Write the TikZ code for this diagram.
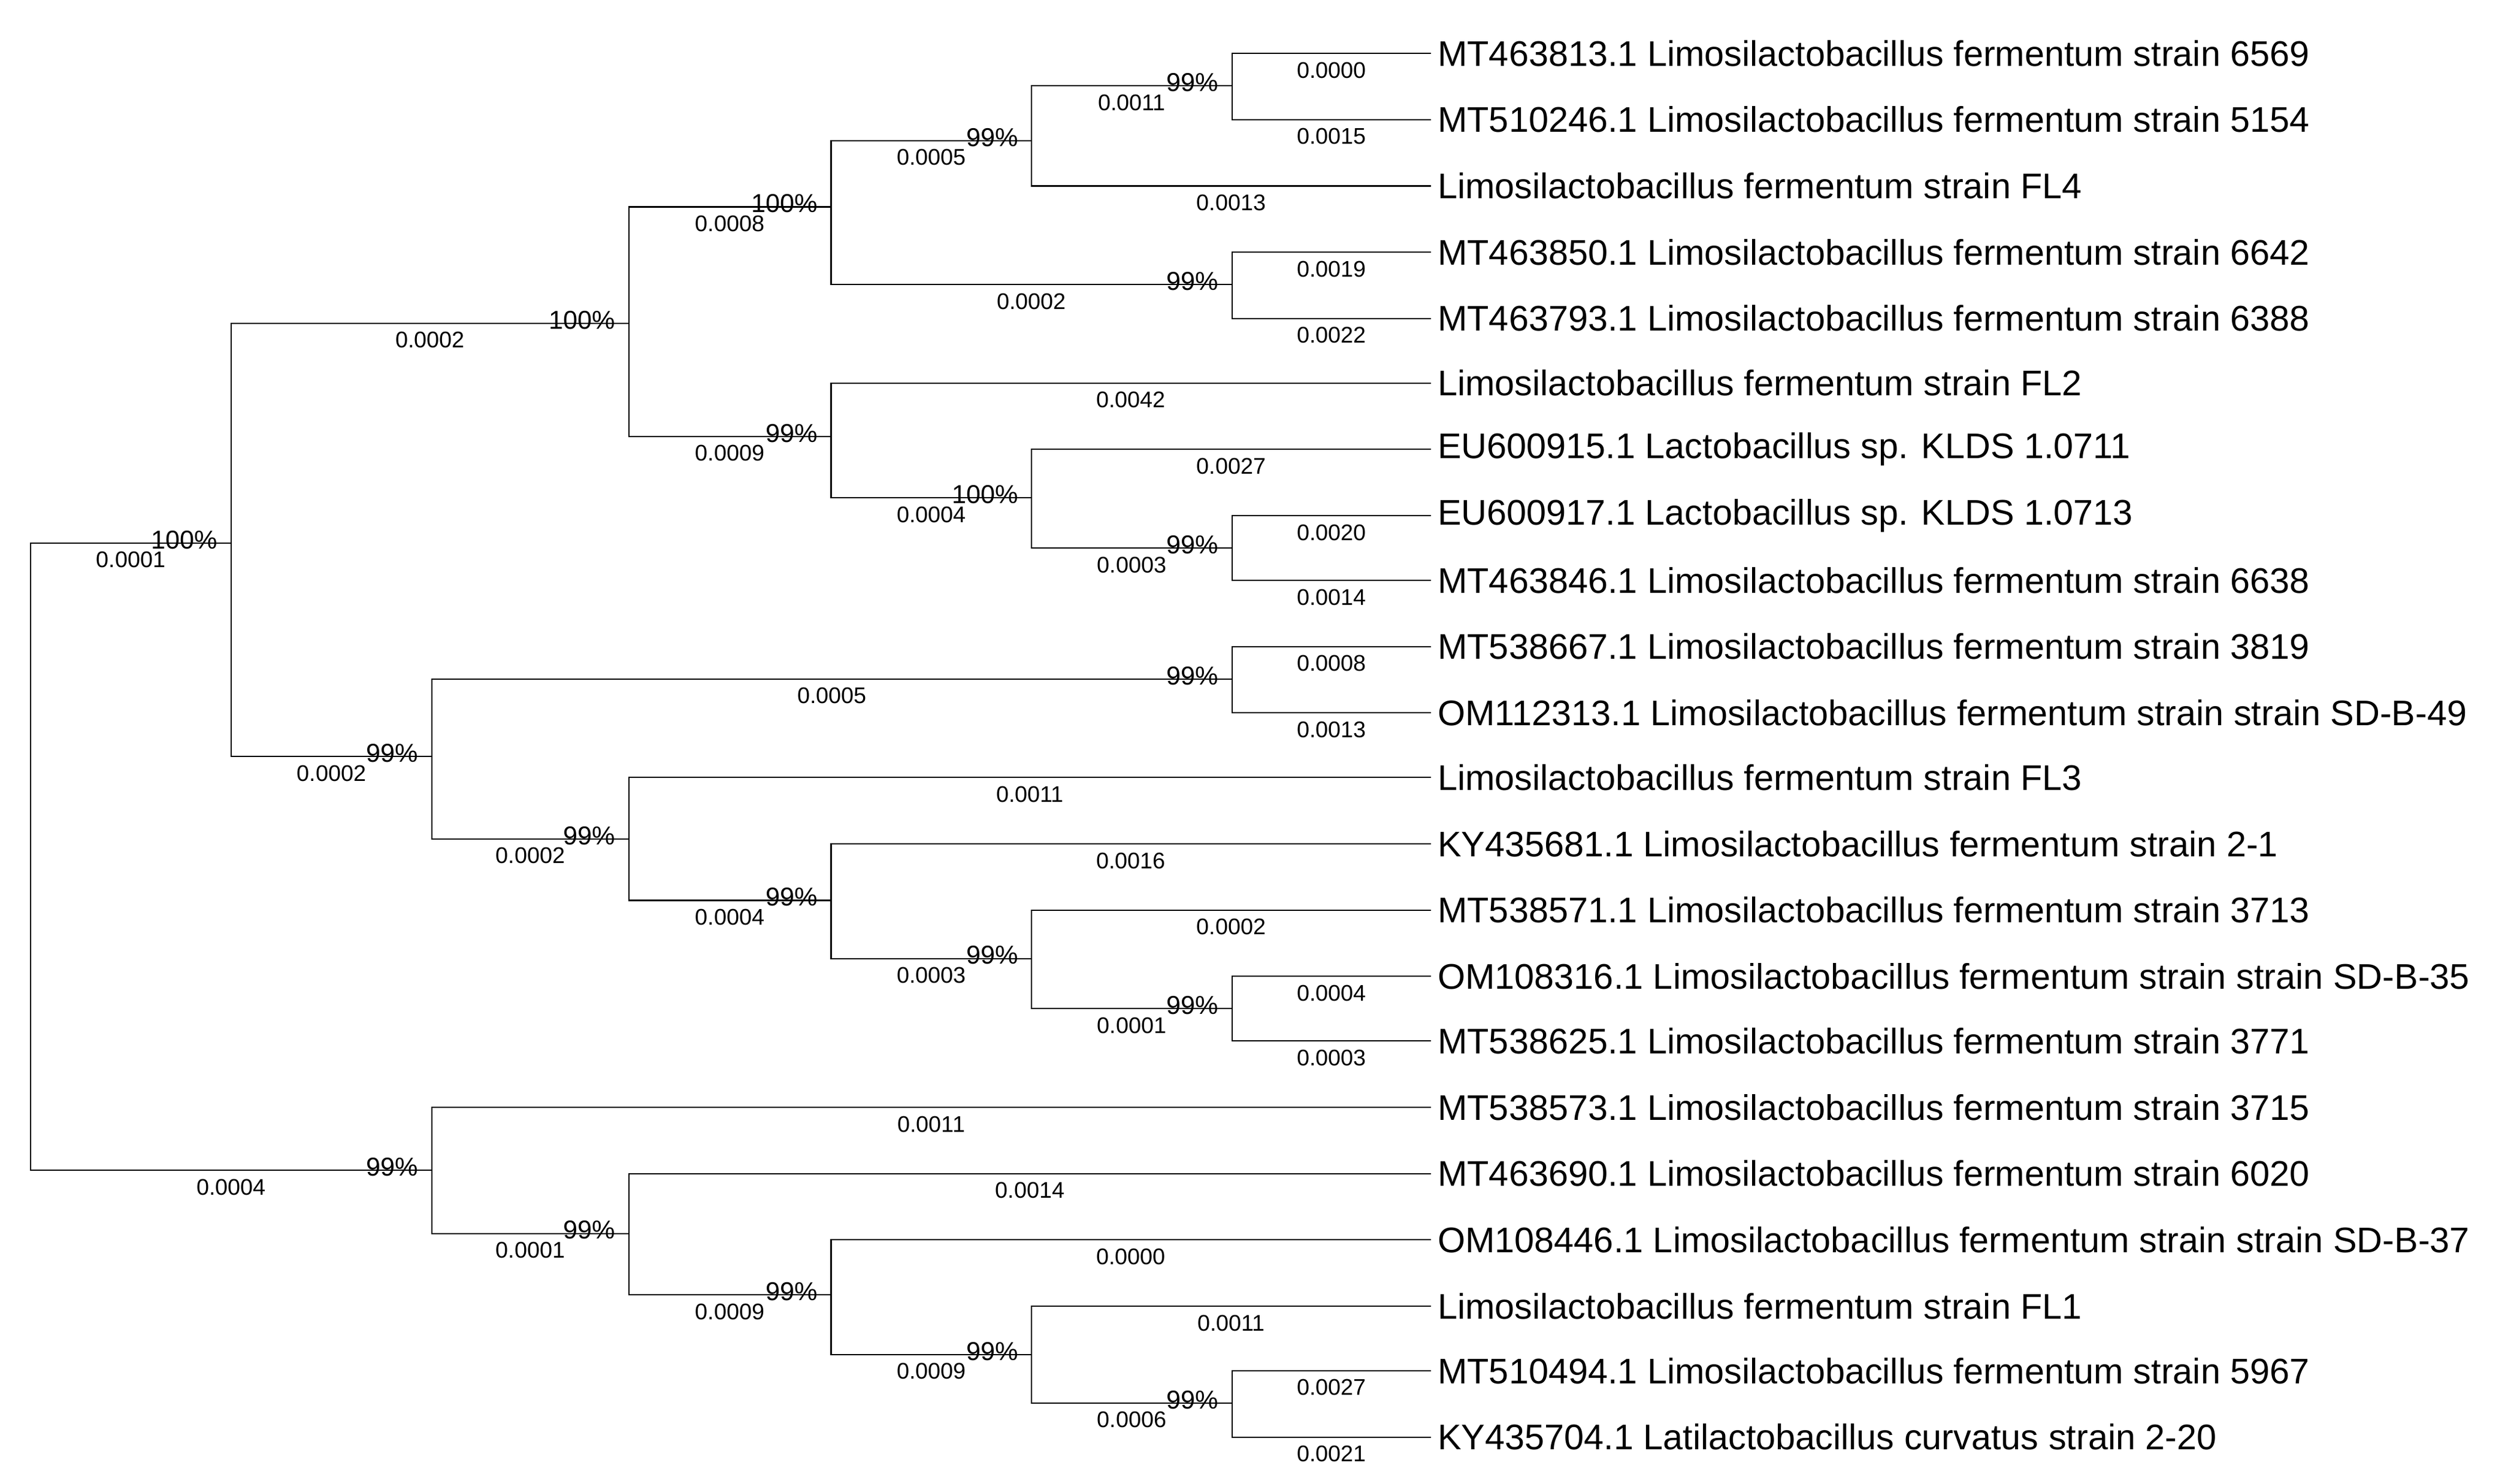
\documentclass[tikz,border=0pt]{standalone}
\usepackage{fontspec}
\setmainfont{Liberation Sans}
\begin{document}
\begin{tikzpicture}[x=1pt,y=-1pt,
  leaf/.style={anchor=west,inner sep=4pt,font=\fontsize{22}{22}\selectfont},
  edge/.style={line width=0.8pt,black},
  len/.style={below,font=\fontsize{14}{14}\selectfont,inner sep=5pt},
  boot/.style={anchor=south east,inner sep=0pt,yshift=-4pt,xshift=-8pt,font=\fontsize{16}{16}\selectfont}]
\fill[white] (0,0) rectangle (1553,918);
\useasboundingbox (0,0) rectangle (1553,918);
% leaves
\foreach \n/\y/\t in {
l1/33/{MT463813.1 Limosilactobacillus fermentum strain 6569},
l2/74/{MT510246.1 Limosilactobacillus fermentum strain 5154},
l3/115/{Limosilactobacillus fermentum strain FL4},
l4/156/{MT463850.1 Limosilactobacillus fermentum strain 6642},
l5/197/{MT463793.1 Limosilactobacillus fermentum strain 6388},
l6/237/{Limosilactobacillus fermentum strain FL2},
l7/278/{EU600915.1 Lactobacillus sp. KLDS 1.0711},
l8/319/{EU600917.1 Lactobacillus sp. KLDS 1.0713},
l9/359/{MT463846.1 Limosilactobacillus fermentum strain 6638},
l10/400/{MT538667.1 Limosilactobacillus fermentum strain 3819},
l11/441/{OM112313.1 Limosilactobacillus fermentum strain strain SD-B-49},
l12/481/{Limosilactobacillus fermentum strain FL3},
l13/522/{KY435681.1 Limosilactobacillus fermentum strain 2-1},
l14/563/{MT538571.1 Limosilactobacillus fermentum strain 3713},
l15/604/{OM108316.1 Limosilactobacillus fermentum strain strain SD-B-35},
l16/644/{MT538625.1 Limosilactobacillus fermentum strain 3771},
l17/685/{MT538573.1 Limosilactobacillus fermentum strain 3715},
l18/726/{MT463690.1 Limosilactobacillus fermentum strain 6020},
l19/767/{OM108446.1 Limosilactobacillus fermentum strain strain SD-B-37},
l20/808/{Limosilactobacillus fermentum strain FL1},
l21/848/{MT510494.1 Limosilactobacillus fermentum strain 5967},
l22/889/{KY435704.1 Latilactobacillus curvatus strain 2-20}}
  {\node[leaf] (\n) at (885,\y) {\t};}
% internal nodes
\coordinate (root) at (19,530);
\coordinate (A) at (143,336);
\coordinate (B) at (389,200);
\coordinate (C) at (514,128);
\coordinate (D) at (638,87);
\coordinate (E) at (762,53);
\coordinate (F) at (762,176);
\coordinate (G) at (514,270);
\coordinate (H) at (638,308);
\coordinate (I) at (762,339);
\coordinate (J) at (267,468);
\coordinate (K) at (762,420);
\coordinate (L) at (389,519);
\coordinate (M) at (514,557);
\coordinate (N) at (638,593);
\coordinate (O) at (762,624);
\coordinate (P) at (267,724);
\coordinate (Q) at (389,763);
\coordinate (R) at (514,801);
\coordinate (S) at (638,838);
\coordinate (T) at (762,868);
\newcommand\ibr[4]{\draw[edge] (#1) |- (#2) node[len,pos=0.75]{#4} node[boot,pos=1]{#3};}
\newcommand\lbr[3]{\draw[edge] (#1) |- (#2.west) node[len,pos=0.75]{#3};}
\ibr{root}{A}{100\%}{0.0001}
\ibr{A}{B}{100\%}{0.0002}
\ibr{B}{C}{100\%}{0.0008}
\ibr{C}{D}{99\%}{0.0005}
\ibr{D}{E}{99\%}{0.0011}
\lbr{E}{l1}{0.0000}
\lbr{E}{l2}{0.0015}
\lbr{D}{l3}{0.0013}
\ibr{C}{F}{99\%}{0.0002}
\lbr{F}{l4}{0.0019}
\lbr{F}{l5}{0.0022}
\ibr{B}{G}{99\%}{0.0009}
\lbr{G}{l6}{0.0042}
\ibr{G}{H}{100\%}{0.0004}
\lbr{H}{l7}{0.0027}
\ibr{H}{I}{99\%}{0.0003}
\lbr{I}{l8}{0.0020}
\lbr{I}{l9}{0.0014}
\ibr{A}{J}{99\%}{0.0002}
\ibr{J}{K}{99\%}{0.0005}
\lbr{K}{l10}{0.0008}
\lbr{K}{l11}{0.0013}
\ibr{J}{L}{99\%}{0.0002}
\lbr{L}{l12}{0.0011}
\ibr{L}{M}{99\%}{0.0004}
\lbr{M}{l13}{0.0016}
\ibr{M}{N}{99\%}{0.0003}
\lbr{N}{l14}{0.0002}
\ibr{N}{O}{99\%}{0.0001}
\lbr{O}{l15}{0.0004}
\lbr{O}{l16}{0.0003}
\ibr{root}{P}{99\%}{0.0004}
\lbr{P}{l17}{0.0011}
\ibr{P}{Q}{99\%}{0.0001}
\lbr{Q}{l18}{0.0014}
\ibr{Q}{R}{99\%}{0.0009}
\lbr{R}{l19}{0.0000}
\ibr{R}{S}{99\%}{0.0009}
\lbr{S}{l20}{0.0011}
\ibr{S}{T}{99\%}{0.0006}
\lbr{T}{l21}{0.0027}
\lbr{T}{l22}{0.0021}
\end{tikzpicture}
\end{document}
